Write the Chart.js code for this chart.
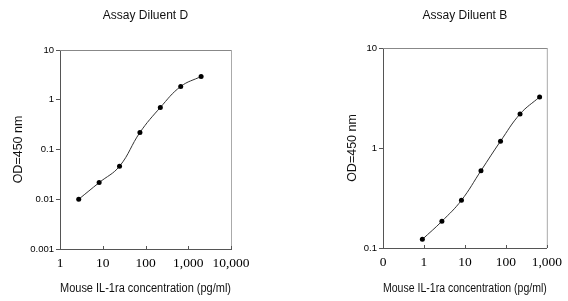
<!DOCTYPE html>
<html>
<head>
<meta charset="utf-8">
<script src="https://cdn.jsdelivr.net/npm/chart.js@4"></script>
<style>
  body { margin: 0; background: #fff; }
  .box { position: absolute; top: 0; width: 284px; height: 301px; }
</style>
</head>
<body>
<div class="box" style="left:0"><canvas id="chartD" width="284" height="301"></canvas></div>
<div class="box" style="left:284px"><canvas id="chartB" width="284" height="301"></canvas></div>
<script>
// Assay Diluent D
const concD = [2.74, 8.23, 24.69, 74.07, 222.2, 666.7, 2000];
const odD = [0.010, 0.0216, 0.046, 0.22, 0.70, 1.85, 2.94];
const xTicksD = [1, 10, 100, 1000, 10000];
const xLabelsD = ["1", "10", "100", "1,000", "10,000"];
const yTicksD = [0.001, 0.01, 0.1, 1, 10];
const yLabelsD = ["0.001", "0.01", "0.1", "1", "10"];

// Assay Diluent B
const concB = [0.914, 2.74, 8.23, 24.69, 74.07, 222.2, 666.7];
const odB = [0.122, 0.185, 0.30, 0.593, 1.17, 2.19, 3.24];
const xTicksB = [0.1, 1, 10, 100, 1000];
const xLabelsB = ["0", "1", "10", "100", "1,000"];
const yTicksB = [0.1, 1, 10];
const yLabelsB = ["0.1", "1", "10"];

const sans = "'Liberation Sans', Arial, sans-serif";
const serif = "'Liberation Serif', 'Times New Roman', serif";

// gray frame on top/right + small inward ticks on the x axis
const framePlugin = {
  id: "frame",
  afterDatasetsDraw(chart) {
    const { ctx, chartArea: a, scales } = chart;
    ctx.save();
    ctx.lineWidth = 1;
    ctx.strokeStyle = "#888";
    ctx.beginPath();
    ctx.moveTo(a.left, a.top + 0.5);
    ctx.lineTo(a.right + 0.5, a.top + 0.5);
    ctx.stroke();
    ctx.strokeStyle = "#aaa";
    ctx.beginPath();
    ctx.moveTo(a.right + 0.5, a.top);
    ctx.lineTo(a.right + 0.5, a.bottom);
    ctx.stroke();
    ctx.strokeStyle = "#555";
    scales.x.ticks.forEach((t) => {
      const px = Math.round(scales.x.getPixelForValue(t.value)) + 0.5;
      ctx.beginPath();
      ctx.moveTo(px, a.bottom);
      ctx.lineTo(px, a.bottom - 3);
      ctx.stroke();
    });
    ctx.restore();
  },
};

function makeChart(id, conc, od, xTicks, xLabels, yTicks, yLabels, title, box) {
  const points = conc.map((c, i) => ({ x: c, y: od[i] }));
  return new Chart(document.getElementById(id), {
    type: "scatter",
    data: {
      datasets: [{
        data: points,
        showLine: true,
        tension: 0.4,
        borderColor: "#333",
        borderWidth: 1,
        pointRadius: 2.5,
        pointBackgroundColor: "#000",
        pointBorderColor: "#000",
        pointBorderWidth: 0,
      }],
    },
    options: {
      responsive: false,
      animation: false,
      devicePixelRatio: 1,
      layout: { padding: { left: box.padLeft, right: box.padRight, top: 0, bottom: 0 } },
      plugins: {
        legend: { display: false },
        tooltip: { enabled: false },
        title: {
          display: true,
          fullSize: false,
          text: title,
          color: "#111",
          font: { family: sans, size: 12, weight: "normal" },
          padding: { top: 8, bottom: box.top - 8 - 14.4 },
        },
      },
      scales: {
        x: {
          type: "logarithmic",
          min: xTicks[0],
          max: xTicks[xTicks.length - 1],
          afterBuildTicks: (s) => { s.ticks = xTicks.map((v) => ({ value: v })); },
          afterFit: (s) => { s.height = 301 - box.bottom; },
          grid: { display: false, drawTicks: false },
          border: { display: true, color: "#555", width: 1 },
          ticks: {
            color: "#000",
            padding: 6,
            maxRotation: 0,
            autoSkip: false,
            font: { family: serif, size: 13.5 },
            callback: (v) => { const i = xTicks.indexOf(v); return i >= 0 ? xLabels[i] : ""; },
          },
          title: {
            display: true,
            text: "Mouse IL-1ra concentration (pg/ml)",
            color: "#111",
            font: { family: sans, size: 12 },
            padding: { top: 0, bottom: 5 },
          },
        },
        y: {
          type: "logarithmic",
          min: yTicks[0],
          max: yTicks[yTicks.length - 1],
          afterBuildTicks: (s) => { s.ticks = yTicks.map((v) => ({ value: v })); },
          afterFit: (s) => { s.width = box.left - box.padLeft; },
          grid: { display: true, drawOnChartArea: false, drawTicks: true, tickLength: 4, color: "#555" },
          border: { display: true, color: "#555", width: 1 },
          ticks: {
            color: "#000",
            padding: 2,
            autoSkip: false,
            font: { family: sans, size: 9.5 },
            callback: (v) => { const i = yTicks.indexOf(v); return i >= 0 ? yLabels[i] : ""; },
          },
          title: {
            display: true,
            text: "OD=450 nm",
            color: "#111",
            font: { family: sans, size: 12.5 },
            padding: { top: 4, bottom: 0 },
          },
        },
      },
    },
    plugins: [framePlugin],
  });
}

makeChart("chartD", concD, odD, xTicksD, xLabelsD, yTicksD, yLabelsD, "Assay Diluent D",
  { padLeft: 7, padRight: 53, left: 60, top: 50, bottom: 249 });
makeChart("chartB", concB, odB, xTicksB, xLabelsB, yTicksB, yLabelsB, "Assay Diluent B",
  { padLeft: 57, padRight: 17, left: 99, top: 48, bottom: 248 });
</script>
</body>
</html>
